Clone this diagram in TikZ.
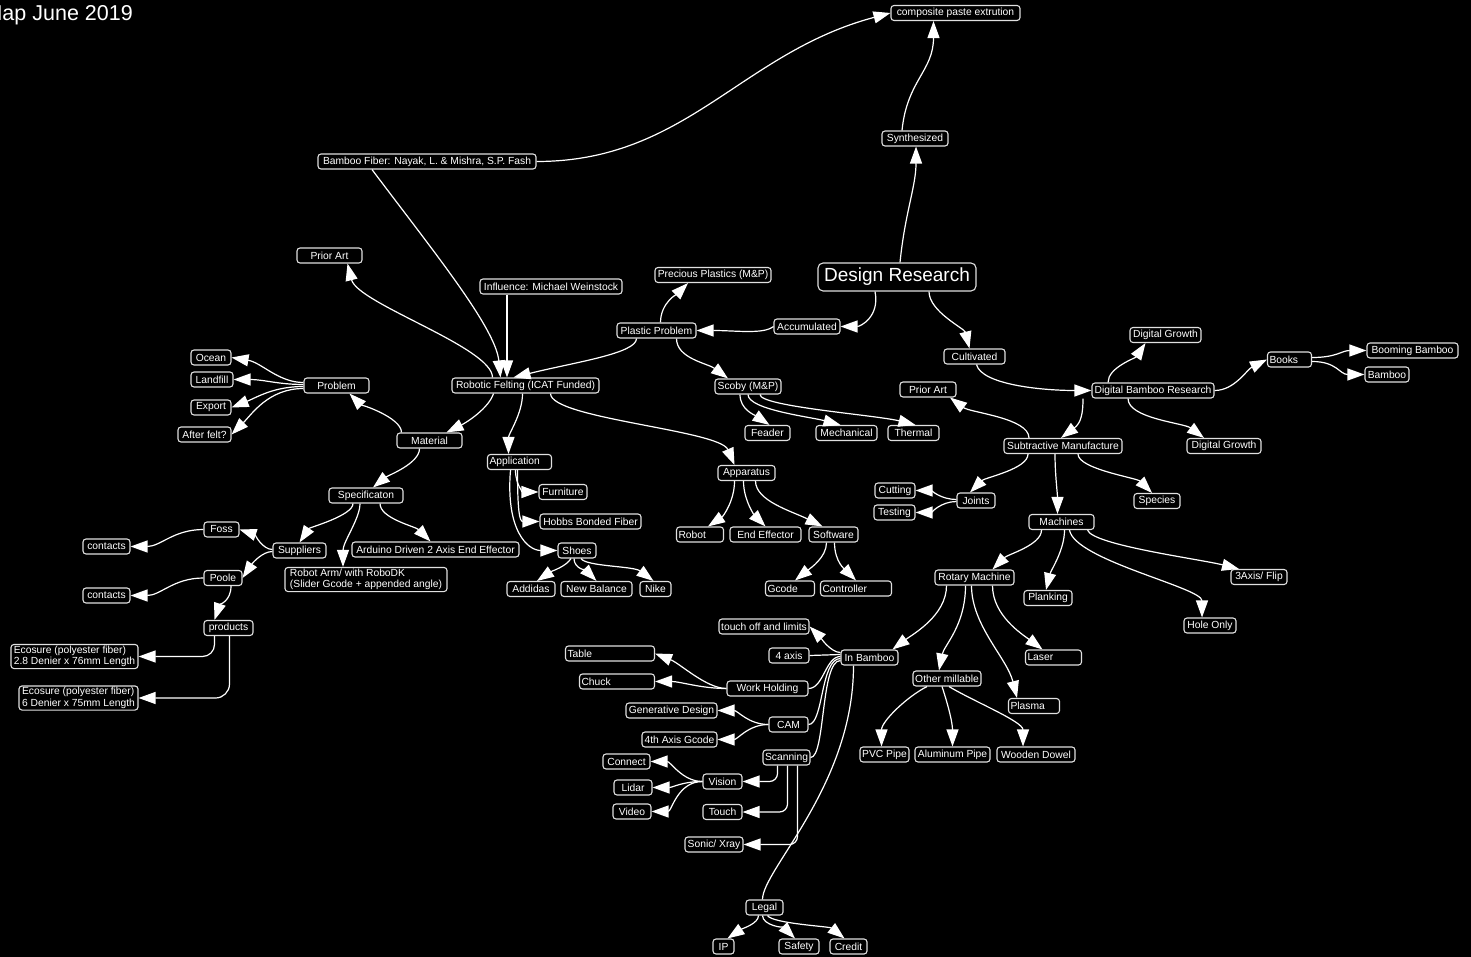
\documentclass[tikz,border=0pt]{standalone}
\usepackage{fontspec}
\setmainfont{Liberation Sans}
\usetikzlibrary{arrows.meta}

\begin{document}
\begin{tikzpicture}[x=1pt, y=-1pt, >={Triangle[length=17pt,width=12pt]},
    box/.style={draw=white!88!black, fill=black, text=white, line width=1.1pt,
        rounded corners=3pt, inner xsep=2pt, inner ysep=1.5pt, minimum height=15pt,
        font=\fontsize{10.3}{11.5}\selectfont},
    lbox/.style={box, align=left},
    link/.style={draw=white, line width=1.2pt, ->},
    tie/.style={draw=white, line width=1.2pt}]
        % Page and background
        \useasboundingbox (0,0) rectangle (1471,957);
        \fill[black] (0,0) rectangle (1471,957);
        \node[anchor=base east, inner sep=0, text=white, font=\fontsize{21.5}{24}\selectfont] (title) at (133,21) {Map June 2019};

        % Draw top nodes
        \node[box] (cpe) at (955.5,13) [minimum width=129pt] {composite paste extrution};
        \node[box] (syn) at (915,138.5) [minimum width=66pt] {Synthesized};
        \node[box, minimum width=158pt, minimum height=28pt, rounded corners=5pt, font=\fontsize{19}{21}\selectfont] (dr) at (897,277) {Design Research};
        \node[box] (bf) at (427,161.5) [minimum width=218pt] {Bamboo Fiber: Nayak, L. \& Mishra, S.P. Fash};
        \node[box] (pal) at (329.5,255.5) [minimum width=65pt] {Prior Art};
        \node[box] (inf) at (551,286.5) [minimum width=142pt] {Influence: Michael Weinstock};
        \node[box] (pp) at (713,275) [minimum width=116pt] {Precious Plastics (M\&P)};
        \node[box] (plp) at (656.5,330.5) [minimum width=79pt] {Plastic Problem};
        \node[box] (acc) at (807,326.5) [minimum width=66pt] {Accumulated};
        \node[box] (rf) at (525.5,385.5) [minimum width=147pt] {Robotic Felting (ICAT Funded)};
        \node[box] (scb) at (748,386.5) [minimum width=66pt] {Scoby (M\&P)};
        \node[box] (fea) at (767.5,433) [minimum width=45pt] {Feader};
        \node[box] (mec) at (846.5,433) [minimum width=61pt] {Mechanical};
        \node[box] (the) at (913.5,433) [minimum width=51pt] {Thermal};

        % Draw right side nodes
        \node[box] (cul) at (974.5,356.5) [minimum width=61pt] {Cultivated};
        \node[box] (par) at (928,389.5) [minimum width=56pt] {Prior Art};
        \node[box] (dgt) at (1165.5,335) [minimum width=71pt] {Digital Growth};
        \node[box] (dbr) at (1153,390.5) [minimum width=122pt] {Digital Bamboo Research};
        \node[lbox] (bks) at (1289.5,359.5) [text width=40pt] {Books};
        \node[box] (bmb) at (1412.5,350.5) [minimum width=91pt] {Booming Bamboo};
        \node[box] (bam) at (1387,374.5) [minimum width=44pt] {Bamboo};
        \node[box] (dgb) at (1224,446) [minimum width=74pt] {Digital Growth};
        \node[box] (sm) at (1063,446) [minimum width=118pt] {Subtractive Manufacture};
        \node[box] (spe) at (1157,501) [minimum width=46pt] {Species};
        \node[box] (joi) at (976,500.5) [minimum width=38pt] {Joints};
        \node[box] (cut) at (895,490.5) [minimum width=40pt] {Cutting};
        \node[box] (tes) at (894.5,512.5) [minimum width=41pt] {Testing};
        \node[box] (mac) at (1061.5,522) [minimum width=65pt] {Machines};
        \node[box] (rot) at (974.5,577.5) [minimum width=79pt] {Rotary Machine};
        \node[box] (pla) at (1048,598) [minimum width=48pt] {Planking};
        \node[box] (hol) at (1210,625.5) [minimum width=52pt] {Hole Only};
        \node[box] (axi) at (1259,577) [minimum width=56pt] {3Axis/ Flip};
        \node[box] (inb) at (869.5,657.5) [minimum width=57pt] {In Bamboo};
        \node[lbox] (las) at (1053.5,657.5) [text width=52pt] {Laser};
        \node[box] (oml) at (947,678.5) [minimum width=68pt] {Other millable};
        \node[lbox] (plm) at (1034,706) [text width=47pt] {Plasma};
        \node[box] (pvc) at (884.5,754.5) [minimum width=49pt] {PVC Pipe};
        \node[box] (alu) at (952.5,754.5) [minimum width=75pt] {Aluminum Pipe};
        \node[box] (woo) at (1036,754.5) [minimum width=78pt] {Wooden Dowel};

        % Draw left side nodes
        \node[box] (prb) at (336.5,385.5) [minimum width=65pt] {Problem};
        \node[box] (oce) at (211,357.5) [minimum width=40pt] {Ocean};
        \node[box] (lan) at (212,379.5) [minimum width=42pt] {Landfill};
        \node[box] (exp) at (211,407.5) [minimum width=40pt] {Export};
        \node[box] (aft) at (204.5,434.5) [minimum width=53pt] {After felt?};
        \node[box] (mat) at (429.5,440.5) [minimum width=65pt] {Material};
        \node[box] (spc) at (366,495.5) [minimum width=74pt] {Specificaton};
        \node[box] (ard) at (435.5,549.5) [minimum width=167pt] {Arduino Driven 2 Axis End Effector};
        \node[lbox] (rar) at (366,579.5) [minimum width=162pt] {Robot Arm/ with RoboDK\\(Slider Gcode + appended angle)};
        \node[box] (sup) at (299.5,550.5) [minimum width=53pt] {Suppliers};
        \node[box] (fos) at (221.5,529.5) [minimum width=35pt] {Foss};
        \node[box] (poo) at (223,578) [minimum width=38pt] {Poole};
        \node[box] (ct1) at (106.5,546.5) [minimum width=47pt] {contacts};
        \node[box] (ct2) at (106.5,595.5) [minimum width=47pt] {contacts};
        \node[box] (prd) at (228.5,628) [minimum width=49pt] {products};
        \node[lbox] (ec1) at (74.5,656.5) [minimum width=127pt] {Ecosure (polyester fiber)\\2.8 Denier x 76mm Length};
        \node[lbox] (ec2) at (78.5,698) [minimum width=119pt] {Ecosure (polyester fiber)\\6 Denier x 75mm Length};

        % Draw middle nodes
        \node[lbox] (app) at (519.5,462) [text width=60pt] {Application};
        \node[box] (fur) at (563,492) [minimum width=48pt] {Furniture};
        \node[box] (hob) at (590.5,521.5) [minimum width=101pt] {Hobbs Bonded Fiber};
        \node[box] (sho) at (577,550.5) [minimum width=38pt] {Shoes};
        \node[box] (add) at (531,589) [minimum width=48pt] {Addidas};
        \node[box] (nba) at (596.5,589) [minimum width=71pt] {New Balance};
        \node[box] (nik) at (655.5,589) [minimum width=31pt] {Nike};
        \node[box] (apa) at (746.5,473) [minimum width=57pt] {Apparatus};
        \node[lbox] (rob) at (700,534.5) [text width=43pt] {Robot};
        \node[box] (eef) at (765.5,534.5) [minimum width=71pt] {End Effector};
        \node[box] (sof) at (833.5,534.5) [minimum width=49pt] {Software};
        \node[lbox] (gco) at (790,588.5) [text width=45pt] {Gcode};
        \node[lbox] (con) at (856,588.5) [text width=67pt] {Controller};

        % Draw bottom nodes
        \node[box] (tol) at (764,626.5) [minimum width=90pt] {touch off and limits};
        \node[box] (fax) at (789,655.5) [minimum width=40pt] {4 axis};
        \node[lbox] (tab) at (610,653.5) [text width=85pt] {Table};
        \node[lbox] (chk) at (617,681.5) [text width=71pt] {Chuck};
        \node[box] (wkh) at (767.5,688.5) [minimum width=81pt] {Work Holding};
        \node[box] (gen) at (671.5,710.5) [minimum width=91pt] {Generative Design};
        \node[box] (cam) at (788.5,724.5) [minimum width=39pt] {CAM};
        \node[box] (fag) at (679.5,739.5) [minimum width=75pt] {4th Axis Gcode};
        \node[box] (scn) at (786.5,757.5) [minimum width=45pt] {Scanning};
        \node[box] (cnc) at (626.5,761.5) [minimum width=47pt] {Connect};
        \node[box] (vis) at (722.5,781.5) [minimum width=39pt] {Vision};
        \node[box] (lid) at (633,787.5) [minimum width=38pt] {Lidar};
        \node[box] (vid) at (632,811.5) [minimum width=38pt] {Video};
        \node[box] (tou) at (722.5,812) [minimum width=39pt] {Touch};
        \node[box] (son) at (714,844.5) [minimum width=58pt] {Sonic/ Xray};
        \node[box] (leg) at (764.5,907.5) [minimum width=37pt] {Legal};
        \node[box] (ip) at (723.5,946.5) [minimum width=21pt] {IP};
        \node[box] (saf) at (799,946.5) [minimum width=40pt] {Safety};
        \node[box] (cre) at (848.5,946.5) [minimum width=37pt] {Credit};

        % Draw top branch
        \draw[link] (bf.east) .. controls +(150,0) and +(-150,40) .. (cpe.west);
        \draw[link] ([xshift=-13pt]syn.north) .. controls +(5,-50) and +(0,50) .. ([xshift=-22pt]cpe.south);
        \draw[link] ([xshift=3pt]dr.north) .. controls +(5,-50) and +(0,40) .. ([xshift=1pt]syn.south);

        % Draw Design Research to plastics
        \draw[link] ([xshift=-22pt]dr.south) .. controls +(5,25) and +(20,0) .. (acc.east);
        \draw[link] (acc.west) .. controls +(-10,8) and +(40,0) .. (plp.east);
        \draw[link] ([xshift=4pt]plp.north) .. controls +(0,-20) and +(-10,10) .. ([xshift=-25pt]pp.south);
        \draw[link] ([xshift=-20pt]plp.south) .. controls +(0,15) and +(60,-15) .. ([xshift=-12pt]rf.north);
        \draw[link] ([xshift=20pt]plp.south) .. controls +(0,20) and +(-20,-15) .. ([xshift=-20pt]scb.north);
        \draw[link] ([xshift=-8pt]scb.south) .. controls +(0,15) and +(-15,-10) .. ([xshift=2pt]fea.north);
        \draw[link] (scb.south) .. controls +(0,15) and +(-30,-8) .. ([xshift=-6pt]mec.north);
        \draw[link] ([xshift=12pt]scb.south) .. controls +(0,12) and +(-40,-10) .. ([xshift=2pt]the.north);

        % Draw Robotic Felting hub
        \draw[link] ([xshift=-55pt]bf.south) .. controls +(60,80) and +(-5,-50) .. ([xshift=-25pt]rf.north);
        \draw[link] ([xshift=-44pt]inf.south) -- ([xshift=-18.5pt]rf.north);
        \draw[link] ([xshift=-33pt]rf.north) .. controls +(0,-30) and +(10,40) .. ([xshift=18pt]pal.south);
        \draw[link] ([xshift=-32pt]rf.south) .. controls +(-5,15) and +(20,-10) .. ([xshift=17pt]mat.north);
        \draw[link] ([xshift=-3pt]rf.south) .. controls +(0,20) and +(0,-20) .. ([xshift=-11pt]app.north);
        \draw[link] ([xshift=25pt]rf.south) .. controls +(0,25) and +(-15,-35) .. ([xshift=-12pt]apa.north);

        % Draw Material branch
        \draw[link] ([xshift=-28pt]mat.north) .. controls +(0,-15) and +(10,10) .. ([xshift=13pt]prb.south);
        \draw[link] ([yshift=3pt]prb.west) .. controls +(-25,0) and +(30,5) .. (oce.east);
        \draw[link] ([yshift=1pt]prb.west) .. controls +(-25,0) and +(30,0) .. (lan.east);
        \draw[link] ([yshift=-1pt]prb.west) .. controls +(-30,0) and +(25,-10) .. (exp.east);
        \draw[link] ([yshift=-3pt]prb.west) .. controls +(-35,0) and +(20,-20) .. (aft.east);
        \draw[link] ([xshift=-10pt]mat.south) .. controls +(0,15) and +(15,-12) .. ([xshift=7pt]spc.north);
        \draw[link] ([xshift=-13pt]spc.south) .. controls +(0,12) and +(10,-15) .. (sup.north);
        \draw[link] ([xshift=-6pt]spc.south) .. controls +(0,15) and +(0,-25) .. ([xshift=-23pt]rar.north);
        \draw[link] ([xshift=14pt]spc.south) .. controls +(0,15) and +(-15,-15) .. ([xshift=-5pt]ard.north);
        \draw[link] ([yshift=1pt]sup.west) .. controls +(-10,0) and +(15,5) .. (fos.east);
        \draw[link] ([yshift=-1pt]sup.west) .. controls +(-10,0) and +(10,-15) .. (poo.east);
        \draw[link] (fos.west) .. controls +(-30,0) and +(30,0) .. (ct1.east);
        \draw[link] (poo.west) .. controls +(-30,0) and +(30,0) .. (ct2.east);
        \draw[link] ([xshift=8pt]poo.south) .. controls +(0,15) and +(5,-15) .. ([xshift=-14pt]prd.north);
        \draw[link, rounded corners=12pt] ([xshift=-14pt]prd.south) |- (ec1.east);
        \draw[link, rounded corners=14pt] ([xshift=1pt]prd.south) |- (ec2.east);

        % Draw Application branch
        \draw[link] ([xshift=-4pt]app.south) .. controls +(0,15) and +(-15,0) .. (fur.west);
        \draw[link] ([xshift=-2pt]app.south) .. controls +(0,40) and +(-20,0) .. (hob.west);
        \draw[link] ([xshift=-9pt]app.south) .. controls +(-5,60) and +(-30,0) .. (sho.west);
        \draw[link] ([xshift=-6pt]sho.south) .. controls +(-5,8) and +(15,-10) .. ([xshift=6pt]add.north);
        \draw[link] ([xshift=-3pt]sho.south) .. controls +(0,10) and +(-10,-10) .. (nba.north);
        \draw[link] ([xshift=4pt]sho.south) .. controls +(5,8) and +(-20,-15) .. ([xshift=-2pt]nik.north);

        % Draw Apparatus branch
        \draw[link] ([xshift=-12pt]apa.south) .. controls +(0,20) and +(15,-10) .. ([xshift=8pt]rob.north);
        \draw[link] ([xshift=-3pt]apa.south) .. controls +(0,20) and +(-10,-10) .. (eef.north);
        \draw[link] ([xshift=9pt]apa.south) .. controls +(0,20) and +(-30,-15) .. ([xshift=-11pt]sof.north);
        \draw[link] ([xshift=-7pt]sof.south) .. controls +(0,15) and +(15,-12) .. ([xshift=5pt]gco.north);
        \draw[link] ([xshift=1pt]sof.south) .. controls +(0,20) and +(-10,-10) .. (con.north);

        % Draw Design Research to bamboo
        \draw[link] ([xshift=32pt]dr.south) .. controls +(0,20) and +(-5,-20) .. ([xshift=-5pt]cul.north);
        \draw[link] ([xshift=2pt]cul.south) .. controls +(5,20) and +(-50,0) .. (dbr.west);
        \draw[link] ([xshift=-45pt]dbr.north) .. controls +(0,-15) and +(-10,15) .. ([xshift=-20pt]dgt.south);
        \draw[link] (dbr.east) .. controls +(20,0) and +(-20,10) .. (bks.west);
        \draw[link] ([yshift=2pt]bks.east) .. controls +(25,0) and +(-25,0) .. (bmb.west);
        \draw[link] ([yshift=-2pt]bks.east) .. controls +(25,0) and +(-25,0) .. (bam.west);
        \draw[link] ([xshift=-25pt]dbr.south) .. controls +(0,20) and +(-20,-15) .. ([xshift=-20pt]dgb.north);
        \draw[link] ([xshift=-70pt]dbr.south) .. controls +(0,15) and +(20,-15) .. ([xshift=-2pt]sm.north);

        % Draw Subtractive Manufacture branch
        \draw[link] ([xshift=-34pt]sm.north) .. controls +(0,-20) and +(20,15) .. ([xshift=22pt]par.south);
        \draw[link] ([xshift=-35pt]sm.south) .. controls +(0,15) and +(15,-15) .. ([xshift=-6pt]joi.north);
        \draw[link] ([xshift=-8pt]sm.south) .. controls +(0,20) and +(0,-20) .. ([xshift=-4pt]mac.north);
        \draw[link] ([xshift=15pt]sm.south) .. controls +(0,15) and +(-15,-15) .. ([xshift=-5pt]spe.north);
        \draw[link] ([yshift=1pt]joi.west) .. controls +(-15,0) and +(15,0) .. (cut.east);
        \draw[link] ([yshift=-1pt]joi.west) .. controls +(-15,0) and +(15,0) .. (tes.east);
        \draw[link] ([xshift=-20pt]mac.south) .. controls +(0,15) and +(15,-15) .. ([xshift=18pt]rot.north);
        \draw[link] ([xshift=3pt]mac.south) .. controls +(0,20) and +(5,-20) .. ([xshift=-2pt]pla.north);
        \draw[link] ([xshift=8pt]mac.south) .. controls +(5,30) and +(0,-30) .. ([xshift=-8pt]hol.north);
        \draw[link] ([xshift=26pt]mac.south) .. controls +(5,15) and +(-40,-10) .. ([xshift=-20pt]axi.north);

        % Draw Rotary Machine branch
        \draw[link] ([xshift=-28pt]rot.south) .. controls +(0,30) and +(20,-15) .. ([xshift=23pt]inb.north);
        \draw[link] ([xshift=-9pt]rot.south) .. controls +(0,40) and +(5,-25) .. ([xshift=-8pt]oml.north);
        \draw[link] ([xshift=-3pt]rot.south) .. controls +(0,40) and +(-10,-40) .. ([xshift=-17pt]plm.north);
        \draw[link] ([xshift=18pt]rot.south) .. controls +(0,30) and +(-20,-15) .. ([xshift=-11pt]las.north);
        \draw[link] ([xshift=-20pt]oml.south) .. controls +(-20,10) and +(0,-25) .. ([xshift=-3pt]pvc.north);
        \draw[link] ([xshift=-5pt]oml.south) .. controls +(5,15) and +(0,-25) .. (alu.north);
        \draw[link] ([xshift=2pt]oml.south) .. controls +(25,15) and +(0,-25) .. ([xshift=-13pt]woo.north);

        % Draw In Bamboo branch
        \draw[link] ([yshift=5pt]inb.west) .. controls +(-10,0) and +(10,10) .. (tol.east);
        \draw[tie] ([yshift=3pt]inb.west) .. controls +(-15,0) and +(15,0) .. (fax.east);
        \draw[tie] ([yshift=1pt]inb.west) .. controls +(-15,0) and +(15,0) .. (wkh.east);
        \draw[tie] ([yshift=-1pt]inb.west) .. controls +(-20,0) and +(15,0) .. (cam.east);
        \draw[tie] ([yshift=-3pt]inb.west) .. controls +(-20,0) and +(15,0) .. (scn.east);
        \draw[tie] ([xshift=-16pt]inb.south) .. controls +(0,120) and +(0,-30) .. ([xshift=-2pt]leg.north);
        \draw[link] (wkh.west) .. controls +(-20,0) and +(25,10) .. (tab.east);
        \draw[link] (wkh.west) .. controls +(-25,0) and +(25,0) .. (chk.east);
        \draw[link] (cam.west) .. controls +(-20,0) and +(20,0) .. (gen.east);
        \draw[link] (cam.west) .. controls +(-20,0) and +(20,0) .. (fag.east);
        \draw[link, rounded corners=8pt] ([xshift=-9pt]scn.south) |- (vis.east);
        \draw[link, rounded corners=8pt] ([xshift=1pt]scn.south) |- (tou.east);
        \draw[link, rounded corners=8pt] ([xshift=11pt]scn.south) |- (son.east);
        \draw[link] (vis.west) .. controls +(-20,0) and +(20,0) .. (cnc.east);
        \draw[link] (vis.west) .. controls +(-20,0) and +(20,0) .. (lid.east);
        \draw[link] (vis.west) .. controls +(-25,0) and +(20,0) .. (vid.east);

        % Draw Legal branch
        \draw[link] ([xshift=-6pt]leg.south) .. controls +(0,8) and +(15,-10) .. ([xshift=4pt]ip.north);
        \draw[link] ([xshift=-2pt]leg.south) .. controls +(0,10) and +(-10,-10) .. ([xshift=-4pt]saf.north);
        \draw[link] ([xshift=3pt]leg.south) .. controls +(5,8) and +(-15,-12) .. ([xshift=-4pt]cre.north);
    \end{tikzpicture}
\end{document}
